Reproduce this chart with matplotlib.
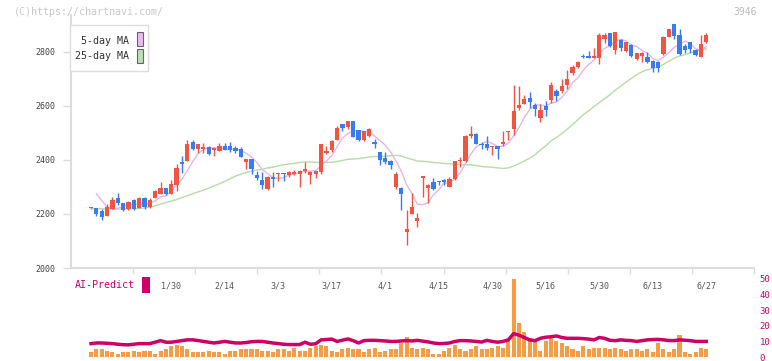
import numpy as np
import pandas as pd
import matplotlib
matplotlib.use('Agg')
import matplotlib.pyplot as plt
from matplotlib.patches import Rectangle

#------------------------------------------------------------------------------
# data (116 trading days, 1/8 .. 6/27)

date_labels = ['1/30', '2/14', '3/3', '3/17', '4/1', '4/15', '4/30', '5/16', '5/30', '6/13', '6/27']
date_label_idx = [15, 25, 35, 45, 55, 65, 75, 85, 95, 105, 115]

opens = [2221, 2222, 2212, 2193, 2219, 2259, 2241, 2218, 2252, 2221,
         2259, 2226, 2259, 2274, 2296, 2272, 2307, 2392, 2396, 2465,
         2440, 2438, 2449, 2437, 2434, 2451, 2451, 2443, 2438, 2393,
         2403, 2345, 2326, 2291, 2337, 2348, 2350, 2344, 2347, 2347,
         2359, 2345, 2349, 2355, 2424, 2437, 2473, 2532, 2522, 2543,
         2510, 2473, 2489, 2465, 2429, 2407, 2397, 2299, 2296, 2134,
         2198, 2172, 2331, 2294, 2318, 2322, 2326, 2301, 2328, 2395,
         2396, 2488, 2495, 2457, 2459, 2447, 2451, 2459, 2502, 2514,
         2593, 2606, 2630, 2603, 2556, 2600, 2621, 2653, 2654, 2676,
         2720, 2742, 2783, 2783, 2777, 2777, 2845, 2867, 2806, 2842,
         2803, 2824, 2772, 2783, 2781, 2765, 2762, 2790, 2855, 2901,
         2861, 2820, 2834, 2806, 2781, 2834]
closes = [2222, 2198, 2190, 2225, 2252, 2242, 2215, 2245, 2219, 2259,
          2224, 2252, 2285, 2296, 2274, 2311, 2371, 2386, 2459, 2439,
          2458, 2448, 2421, 2445, 2451, 2437, 2437, 2434, 2411, 2403,
          2367, 2333, 2305, 2337, 2330, 2350, 2347, 2354, 2356, 2360,
          2366, 2356, 2359, 2459, 2433, 2470, 2519, 2519, 2543, 2485,
          2473, 2506, 2514, 2460, 2400, 2390, 2379, 2348, 2274, 2145,
          2225, 2186, 2341, 2307, 2292, 2318, 2316, 2328, 2396, 2400,
          2488, 2495, 2459, 2453, 2445, 2449, 2439, 2465, 2507, 2581,
          2603, 2625, 2614, 2588, 2584, 2584, 2676, 2636, 2673, 2697,
          2744, 2763, 2778, 2777, 2783, 2861, 2861, 2820, 2871, 2812,
          2834, 2783, 2793, 2796, 2762, 2740, 2740, 2855, 2883, 2858,
          2791, 2806, 2809, 2787, 2828, 2861]
highs = [2223, 2222, 2218, 2237, 2264, 2279, 2241, 2247, 2256, 2261,
         2263, 2259, 2287, 2316, 2296, 2327, 2384, 2414, 2472, 2473,
         2460, 2461, 2451, 2448, 2461, 2461, 2467, 2451, 2449, 2403,
         2403, 2359, 2356, 2340, 2353, 2350, 2351, 2358, 2363, 2362,
         2393, 2358, 2360, 2460, 2451, 2473, 2526, 2533, 2544, 2544,
         2511, 2507, 2516, 2477, 2430, 2427, 2398, 2355, 2300, 2213,
         2277, 2203, 2341, 2311, 2332, 2323, 2328, 2337, 2396, 2410,
         2490, 2523, 2500, 2467, 2488, 2450, 2452, 2507, 2507, 2675,
         2673, 2640, 2650, 2609, 2606, 2617, 2689, 2662, 2697, 2731,
         2750, 2764, 2790, 2802, 2812, 2869, 2869, 2869, 2873, 2845,
         2836, 2826, 2795, 2798, 2799, 2767, 2765, 2858, 2885, 2903,
         2882, 2828, 2836, 2808, 2861, 2869]
lows = [2219, 2193, 2178, 2193, 2219, 2234, 2209, 2216, 2215, 2221,
        2219, 2222, 2259, 2274, 2268, 2272, 2285, 2350, 2396, 2437,
        2426, 2424, 2418, 2415, 2432, 2435, 2428, 2424, 2409, 2367,
        2347, 2326, 2291, 2289, 2299, 2320, 2323, 2337, 2344, 2301,
        2350, 2311, 2333, 2348, 2422, 2430, 2472, 2508, 2513, 2484,
        2470, 2470, 2484, 2445, 2381, 2384, 2365, 2291, 2213, 2086,
        2198, 2150, 2264, 2240, 2290, 2307, 2305, 2301, 2326, 2375,
        2393, 2480, 2457, 2439, 2437, 2418, 2404, 2452, 2473, 2492,
        2584, 2605, 2593, 2563, 2541, 2563, 2611, 2617, 2648, 2662,
        2713, 2738, 2775, 2775, 2777, 2753, 2832, 2818, 2790, 2802,
        2800, 2780, 2770, 2762, 2758, 2725, 2725, 2788, 2853, 2846,
        2789, 2793, 2793, 2785, 2778, 2830]

# moving averages: the first days depend on history before the chart
ma5_head = [np.nan, 2274, 2250, 2225]
ma25_head = [2220, 2219, 2219, 2218, 2218, 2218, 2218, 2218, 2219, 2220,
             2222, 2225, 2230, 2236, 2242, 2247, 2253, 2260, 2267, 2274,
             2281, 2288, 2295, 2303]

volumes = [3, 5, 5, 4, 3, 2, 3, 3, 4, 3,
           4, 4, 2, 4, 5, 7, 8, 7, 5, 3,
           3, 3, 4, 3, 3, 2, 4, 4, 5, 5,
           5, 5, 4, 4, 3, 5, 5, 4, 6, 4,
           4, 6, 7, 8, 7, 4, 3, 5, 6, 5,
           5, 3, 5, 6, 3, 4, 5, 5, 9, 13,
           6, 5, 6, 5, 2, 2, 4, 6, 8, 5,
           4, 5, 7, 5, 5, 6, 7, 6, 11, 50,
           22, 16, 12, 10, 4, 10, 13, 10, 9, 7,
           5, 4, 7, 5, 6, 6, 6, 5, 6, 5,
           4, 5, 5, 4, 5, 3, 9, 5, 3, 5,
           14, 3, 2, 3, 6, 5]
ai_predict = [8.6, 9, 9, 8.8, 8.6, 8.2, 7.9, 7.8, 8.2, 8.6,
              8.6, 8.6, 9.5, 10.5, 9.5, 9.5, 10, 10.5, 11, 11,
              10.6, 10, 9.5, 9, 9.5, 10, 9.5, 9, 9, 9.3,
              9.8, 10, 10, 9.5, 9, 8.6, 8.2, 8, 8, 8,
              9.5, 8.2, 8.5, 11, 11.2, 11.5, 10, 10.8, 11.6, 10.5,
              9, 10.5, 10.7, 10.7, 10.5, 10.3, 10, 10, 10.3, 10.5,
              10.3, 10.7, 10.2, 9.7, 9, 8.6, 8.7, 9, 10, 10.5,
              10.5, 10.3, 10, 9.6, 10.7, 10, 9.5, 10, 11, 15,
              14, 12.5, 11, 10.5, 12, 12.7, 13, 13.5, 12.5, 12,
              12, 12, 11.8, 11.5, 11, 12.5, 12, 10.7, 10.5, 11,
              10.7, 10.5, 10, 10.5, 11, 11.2, 11.3, 11, 10.6, 10.5,
              11, 10.8, 10.5, 10, 10, 10]

#------------------------------------------------------------------------------

RED = '#f25442'
BLUE = '#3b7bf2'
MA5_COL = '#e8b4ec'
MA25_COL = '#b6dca8'
VOL_COL = '#f59c45'
AI_COL = '#cc0066'
MONO = 'DejaVu Sans Mono'

W, H = 772, 361
fig = plt.figure(figsize=(W / 100, H / 100), dpi=100)


def px_axes(x0, y0, x1, y1, **kw):
    return fig.add_axes([x0 / W, 1 - y1 / H, (x1 - x0) / W, (y1 - y0) / H], **kw)


x = np.arange(len(closes))
o = np.array(opens, float)
c = np.array(closes, float)
hi = np.array(highs, float)
lo = np.array(lows, float)
xlim = ((71 - 91) / 5.35, (754 - 91) / 5.35)

s = pd.Series(c)
ma5 = s.rolling(5).mean().values
ma5[:4] = ma5_head
ma25 = s.rolling(25).mean().values
ma25[:24] = ma25_head

# price panel
ax = px_axes(71, 15, 754, 268)
ax.set_xlim(*xlim)
ax.set_ylim(2000, 2935)
ax.plot(x, ma25, color=MA25_COL, lw=1, zorder=1)
ax.plot(x, ma5, color=MA5_COL, lw=1, zorder=1)
cols = [RED if cc >= oo else BLUE for oo, cc in zip(o, c)]
ax.vlines(x, lo, hi, colors=cols, lw=1, zorder=2)
ax.bar(x, np.maximum(np.abs(c - o), 3), bottom=np.minimum(o, c), width=0.8,
       color=cols, zorder=3)

for sp in ['top', 'right']:
    ax.spines[sp].set_visible(False)
for sp in ['left', 'bottom']:
    ax.spines[sp].set_color('#dddddd')
    ax.spines[sp].set_linewidth(1.5)
ax.set_yticks([2000, 2200, 2400, 2600, 2800])
ax.set_yticklabels(['2000', '2200', '2400', '2600', '2800'], family=MONO)
ax.tick_params(axis='y', length=6, width=1, color='#dddddd', labelcolor='#444444',
               labelsize=6, pad=5)
ax.set_xticks(np.linspace(xlim[0], xlim[1], 12)[1:])
ax.tick_params(axis='x', length=4, width=1, color='#dddddd', labelbottom=False)

# AI-Predict panel
ax2 = px_axes(71, 278.2, 754, 358.6)
ax2.set_xlim(*xlim)
ax2.set_ylim(-1, 50.5)
ax2.bar(x, volumes, width=0.75, color=VOL_COL, zorder=1)
ax2.plot(x, ai_predict, color=AI_COL, lw=2.5, zorder=2)
for sp in ax2.spines.values():
    sp.set_visible(False)
ax2.set_xticks([])
ax2.yaxis.tick_right()
ax2.set_yticks([0, 10, 20, 30, 40, 50])
ax2.set_yticklabels(['0', '10', '20', '30', '40', '50'], family=MONO)
ax2.tick_params(axis='y', length=0, labelcolor=AI_COL, labelsize=6.5, pad=4)
for i, lbl in zip(date_label_idx, date_labels):
    ax2.text(i, 45.5, lbl, ha='center', va='center', fontsize=6, color='#555555',
             family=MONO)

# overlay in pixel coordinates: watermark, legend, AI-Predict label
ov = fig.add_axes([0, 0, 1, 1], zorder=10)
ov.set_xlim(0, W)
ov.set_ylim(H, 0)
ov.axis('off')
ov.patch.set_alpha(0)
ov.text(14, 12, '(C)https://chartnavi.com/', fontsize=7.2, color='#c8c8c8',
        family=MONO, va='center')
ov.text(757, 12, '3946', fontsize=7, color='#bbbbbb', family=MONO, va='center', ha='right')

ov.add_patch(Rectangle((70, 24.5), 78, 46.5, facecolor='white', edgecolor='#dddddd', lw=1))
ov.text(129, 41, '5-day MA', fontsize=7.2, color='#333333', family=MONO,
        ha='right', va='center')
ov.text(129, 56, '25-day MA', fontsize=7.2, color='#333333', family=MONO,
        ha='right', va='center')
ov.add_patch(Rectangle((136.5, 31.5), 6, 14, facecolor='#f0b8f0', edgecolor='#666666', lw=0.8))
ov.add_patch(Rectangle((136.5, 49), 6, 14, facecolor='#b8e0b0', edgecolor='#666666', lw=0.8))

ov.text(75, 285, 'AI-Predict', fontsize=7.2, color=AI_COL, family=MONO, va='center')
ov.add_patch(Rectangle((142, 277), 8, 16, facecolor=AI_COL, edgecolor='none'))

fig.savefig('out.png', dpi=100)
